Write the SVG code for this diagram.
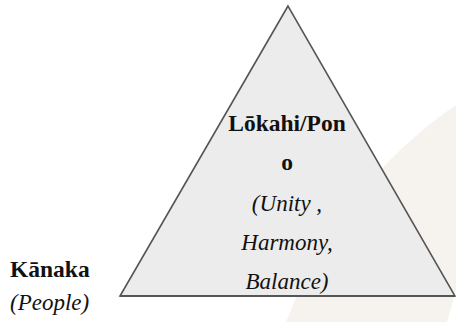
<svg xmlns="http://www.w3.org/2000/svg" width="456" height="322" viewBox="0 0 456 322">
<style>
.b{font-weight:bold;font-size:23.5px;fill:#111}
.i{font-style:italic;font-size:23px;fill:#111}
.c{text-anchor:middle}
</style>
<rect width="456" height="322" fill="#ffffff"/>
<path id="bg-swoosh" d="M456,105 Q340,185 286,322 L447,322 L456,290 Z" fill="#f6f3ee"/>
<g id="connectors"/>
<g id="node-lokahi" font-family="Liberation Serif, DejaVu Serif, serif">
<polygon points="288,6 120,296 455,296" fill="#ececec" stroke="#555555" stroke-width="1.6" stroke-linejoin="miter"/>
<line x1="120" y1="296" x2="455" y2="296" stroke="#555555" stroke-width="2"/>
<text class="b c" x="287" y="131">Lōkahi/Pon</text>
<text class="b c" x="287" y="170">o</text>
<text class="i c" x="287" y="211">(Unity ,</text>
<text class="i c" x="287" y="250">Harmony,</text>
<text class="i c" x="287" y="289">Balance)</text>
</g>
<g id="node-kanaka" font-family="Liberation Serif, DejaVu Serif, serif">
<text class="b" x="10" y="277">Kānaka</text>
<text class="i" x="10" y="310">(People)</text>
</g>
</svg>
